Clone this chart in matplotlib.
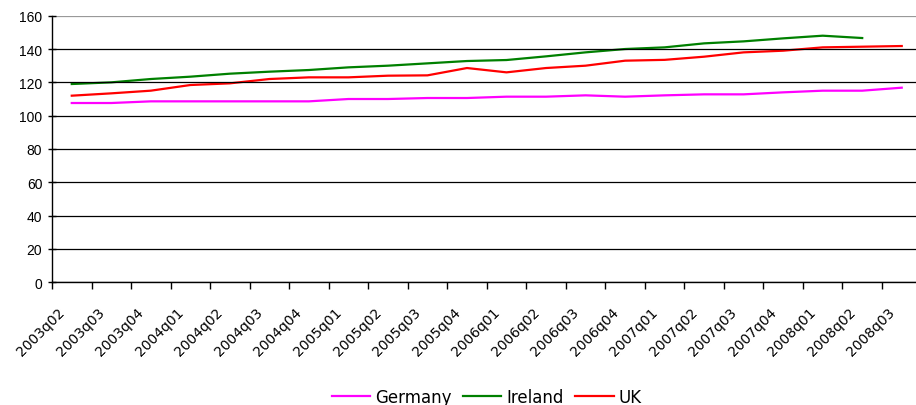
import matplotlib
matplotlib.use('Agg')
import matplotlib.pyplot as plt
import matplotlib.transforms as mtransforms
import numpy as np

plt.rcParams['font.family'] = ['Liberation Sans', 'DejaVu Sans']

quarters = ['2003q02', '2003q03', '2003q04', '2004q01', '2004q02', '2004q03',
            '2004q04', '2005q01', '2005q02', '2005q03', '2005q04', '2006q01',
            '2006q02', '2006q03', '2006q04', '2007q01', '2007q02', '2007q03',
            '2007q04', '2008q01', '2008q02', '2008q03']
germany = [107.6, 107.6, 108.6, 108.6, 108.6, 108.6, 108.6, 110.0, 110.0, 110.6,
           110.6, 111.4, 111.4, 112.2, 111.4, 112.2, 112.8, 112.8, 114.0, 115.0,
           115.0, 116.8]
ireland = [119.0, 120.0, 122.0, 123.4, 125.2, 126.4, 127.4, 129.0, 130.0, 131.4,
           132.8, 133.4, 135.6, 138.0, 140.0, 141.0, 143.4, 144.6, 146.4, 148.0,
           146.6]
uk = [112.0, 113.4, 115.0, 118.4, 119.4, 122.0, 123.0, 123.0, 124.0, 124.2,
      128.6, 126.0, 128.6, 130.0, 133.0, 133.5, 135.4, 138.0, 139.0, 141.0,
      141.4, 141.8]

fig = plt.figure(figsize=(9.16, 4.06), dpi=100)
ax = fig.add_axes([52/916, (406-283.3)/406, 869.5/916, 266.6/406])

x = np.arange(len(quarters))
ax.plot(x[:len(germany)], germany, color='#ff00ff', lw=1.6, label='Germany')
ax.plot(x[:len(ireland)], ireland, color='#008000', lw=1.6, label='Ireland')
ax.plot(x[:len(uk)], uk, color='#ff0000', lw=1.6, label='UK')

ax.set_xlim(-0.5, len(quarters) - 0.5)
ax.set_ylim(0, 160)
ax.set_yticks(range(0, 161, 20))
ax.yaxis.grid(True, color='black', lw=0.9)
ax.set_axisbelow(False)
ax.get_ygridlines()[-1].set_color('#999999')

# tick marks between categories, labels at the centres
ax.set_xticks(np.arange(-0.5, len(quarters)), [])
ax.set_xticks(x, quarters, minor=True)
ax.tick_params(axis='x', which='major', direction='out', length=5, width=1)
ax.tick_params(axis='x', which='minor', length=0, pad=16)
shift = mtransforms.ScaledTranslation(-4/100, 0, fig.dpi_scale_trans)
for lab in ax.get_xticklabels(minor=True):
    lab.set_rotation(45)
    lab.set_ha('right')
    lab.set_fontfamily('DejaVu Sans')
    lab.set_fontsize(10)
    lab.set_transform(lab.get_transform() + shift)
ax.tick_params(axis='y', direction='inout', length=6, width=1, labelsize=10, pad=4)

for s in ['top', 'right']:
    ax.spines[s].set_visible(False)
for s in ['left', 'bottom']:
    ax.spines[s].set_color('black')
    ax.spines[s].set_linewidth(1)

ax.legend(loc='center', bbox_to_anchor=(0.5, -0.43), ncol=3, frameon=False,
          prop={'family': 'DejaVu Sans', 'size': 12}, handlelength=2.3,
          handletextpad=0.3, columnspacing=0.7)

fig.savefig('out.png', dpi=100)
